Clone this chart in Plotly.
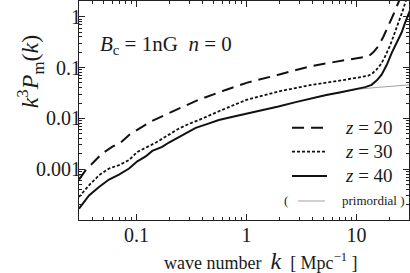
import plotly.graph_objects as go

# ---- data ----
k_z20 = [0.030, 0.0345, 0.041, 0.0489, 0.0603, 0.0718, 0.0855, 0.1017, 0.1345, 0.211, 0.37, 0.646,
         1.0, 1.95, 3.9, 7.85, 11.0, 12.8, 14.2, 15.8, 17.5, 19.5, 21.7, 24.0, 25.5]
p_z20 = [6.25e-4, 9.55e-4, 1.40e-3, 2.05e-3, 2.77e-3, 3.32e-3, 4.71e-3, 5.92e-3, 8.65e-3, 0.0136, 0.0234, 0.0363,
         0.050, 0.0724, 0.107, 0.140, 0.158, 0.166, 0.20, 0.263, 0.40, 0.66, 1.12, 1.9, 2.6]

k_z30 = [0.030, 0.037, 0.0456, 0.0562, 0.0693, 0.0855, 0.1017, 0.121, 0.149, 0.197, 0.243, 0.30, 0.37, 0.56,
         1.0, 1.95, 3.9, 7.85, 10.5, 12.8, 14.0, 15.2, 16.7, 18.2, 20.3, 22.4, 24.5, 26.6, 28.5]
p_z30 = [2.83e-4, 4.82e-4, 7.6e-4, 1.03e-3, 1.2e-3, 1.51e-3, 2.19e-3, 2.63e-3, 3.31e-3, 4.79e-3, 6.3e-3, 7.8e-3, 9.3e-3, 0.0138,
         0.0232, 0.0339, 0.0457, 0.0575, 0.063, 0.069, 0.0776, 0.091, 0.117, 0.166, 0.28, 0.49, 0.85, 1.41, 2.3]

k_z40 = [0.030, 0.037, 0.0456, 0.0562, 0.0693, 0.0855, 0.1017, 0.121, 0.139, 0.171, 0.197, 0.26, 0.345, 0.45, 0.56, 0.75,
         1.0, 1.4, 1.95, 2.8, 3.9, 5.3, 7.0, 10.4, 11.2, 12.0, 13.7, 14.5, 15.3, 16.9, 18.8, 20.9, 23.0, 25.7, 27.5, 29.5, 30.5]
p_z40 = [1.67e-4, 3.05e-4, 4.47e-4, 6.25e-4, 7.85e-4, 1.03e-3, 1.43e-3, 1.78e-3, 2.29e-3, 2.75e-3, 3.35e-3, 4.57e-3, 6.5e-3, 7.9e-3, 9.3e-3, 0.0108,
         0.0123, 0.0145, 0.0171, 0.0209, 0.0251, 0.0288, 0.0324, 0.038, 0.0389, 0.0412, 0.0457, 0.050, 0.056, 0.0724, 0.112, 0.195, 0.30, 0.49, 0.74, 1.12, 1.3]

k_prim = [3.9, 7.0, 10.4, 15.0, 20.0, 30.5]
p_prim = [0.0251, 0.0324, 0.0375, 0.0405, 0.0428, 0.0457]

x_ticks = [0.1, 1, 10]
x_ticklabels = ["0.1", "1", "10"]
y_ticks = [0.001, 0.01, 0.1, 1]
y_ticklabels = ["0.001", "0.01", "0.1", "1"]

legend_labels = ["<i>z</i> = 20", "<i>z</i> = 30", "<i>z</i> = 40"]

FONT = "Liberation Serif"
TXT = "#1a1a1a"

fig = go.Figure()
fig.add_trace(go.Scatter(x=k_prim, y=p_prim, mode="lines",
                         line=dict(color="#a0a0a0", width=1), showlegend=False))
fig.add_trace(go.Scatter(x=k_z40, y=p_z40, mode="lines",
                         line=dict(color="#111", width=2), showlegend=False))
fig.add_trace(go.Scatter(x=k_z30, y=p_z30, mode="lines",
                         line=dict(color="#111", width=1.8, dash="3px,2px"), showlegend=False))
fig.add_trace(go.Scatter(x=k_z20, y=p_z20, mode="lines",
                         line=dict(color="#111", width=2, dash="12px,7px"), showlegend=False))

x_minor = [v * m for v in (0.01, 0.1, 1, 10) for m in range(2, 10)]
y_minor = [v * m for v in (1e-4, 1e-3, 1e-2, 1e-1, 1) for m in range(2, 10)]

axis_common = dict(type="log", showgrid=False, zeroline=False, showline=True,
                   linecolor="#222", linewidth=1, mirror="ticks", ticks="inside",
                   ticklen=6, tickcolor="#222", tickwidth=1,
                   tickfont=dict(family=FONT, size=20, color=TXT))

fig.update_xaxes(range=[-1.523, 1.477], tickmode="array", tickvals=x_ticks,
                 ticktext=x_ticklabels, ticklabelstandoff=-3,
                 minor=dict(tickmode="array", tickvals=x_minor, ticks="inside",
                            ticklen=3, tickcolor="#222", showgrid=False),
                 **axis_common)
fig.update_yaxes(range=[-4.0, 0.31], tickmode="array", tickvals=y_ticks,
                 ticktext=y_ticklabels, ticklabelstandoff=-7,
                 minor=dict(tickmode="array", tickvals=y_minor, ticks="inside",
                            ticklen=3, tickcolor="#222", showgrid=False),
                 **axis_common)

annotations = [
    dict(text="<i>k</i><sup>3</sup><i>P</i><sub>m</sub>(<i>k</i>)", x=-0.205, y=0.676,
         textangle=-90, font=dict(family=FONT, size=24, color=TXT)),
    dict(text="<i>B</i><sub>c</sub> = 1nG\u00a0\u00a0<i>n</i> = 0", x=0.0576, y=0.799,
         xanchor="left", font=dict(family=FONT, size=21, color=TXT)),
    dict(text="wave number\u00a0\u00a0<span style='font-size:24px'><i>k</i></span>\u00a0\u00a0[ Mpc<sup>\u22121</sup> ]",
         x=0.5515, y=-0.186, font=dict(family=FONT, size=18, color=TXT)),
    dict(text="(", x=0.615, y=0.0868, xanchor="left", font=dict(family=FONT, size=13, color=TXT)),
    dict(text="primordial )", x=0.791, y=0.0868, xanchor="left", font=dict(family=FONT, size=13, color=TXT)),
]
row_y = [0.4215, 0.312, 0.201]
for lab, yy in zip(legend_labels, row_y):
    annotations.append(dict(text=lab, x=0.8, y=yy, xanchor="left",
                            font=dict(family=FONT, size=19, color=TXT)))
for a in annotations:
    a.update(xref="paper", yref="paper", showarrow=False, yanchor="middle")

shapes = [
    dict(type="line", x0=0.6455, x1=0.7515, y0=0.4215, y1=0.4215,
         line=dict(color="#111", width=2, dash="12px,7px")),
    dict(type="line", x0=0.6455, x1=0.7515, y0=0.312, y1=0.312,
         line=dict(color="#111", width=1.8, dash="3px,2px")),
    dict(type="line", x0=0.6455, x1=0.7515, y0=0.201, y1=0.201,
         line=dict(color="#111", width=2)),
    dict(type="line", x0=0.6636, x1=0.7455, y0=0.0868, y1=0.0868,
         line=dict(color="#a0a0a0", width=1)),
]
for s in shapes:
    s.update(xref="paper", yref="paper")

fig.update_layout(width=410, height=273, margin=dict(l=79, r=1, t=1, b=53),
                  paper_bgcolor="white", plot_bgcolor="white",
                  annotations=annotations, shapes=shapes, showlegend=False)

fig.write_html("out.html", config={"displayModeBar": False},
               post_script="document.body.style.margin='0';document.body.style.overflow='hidden';")
